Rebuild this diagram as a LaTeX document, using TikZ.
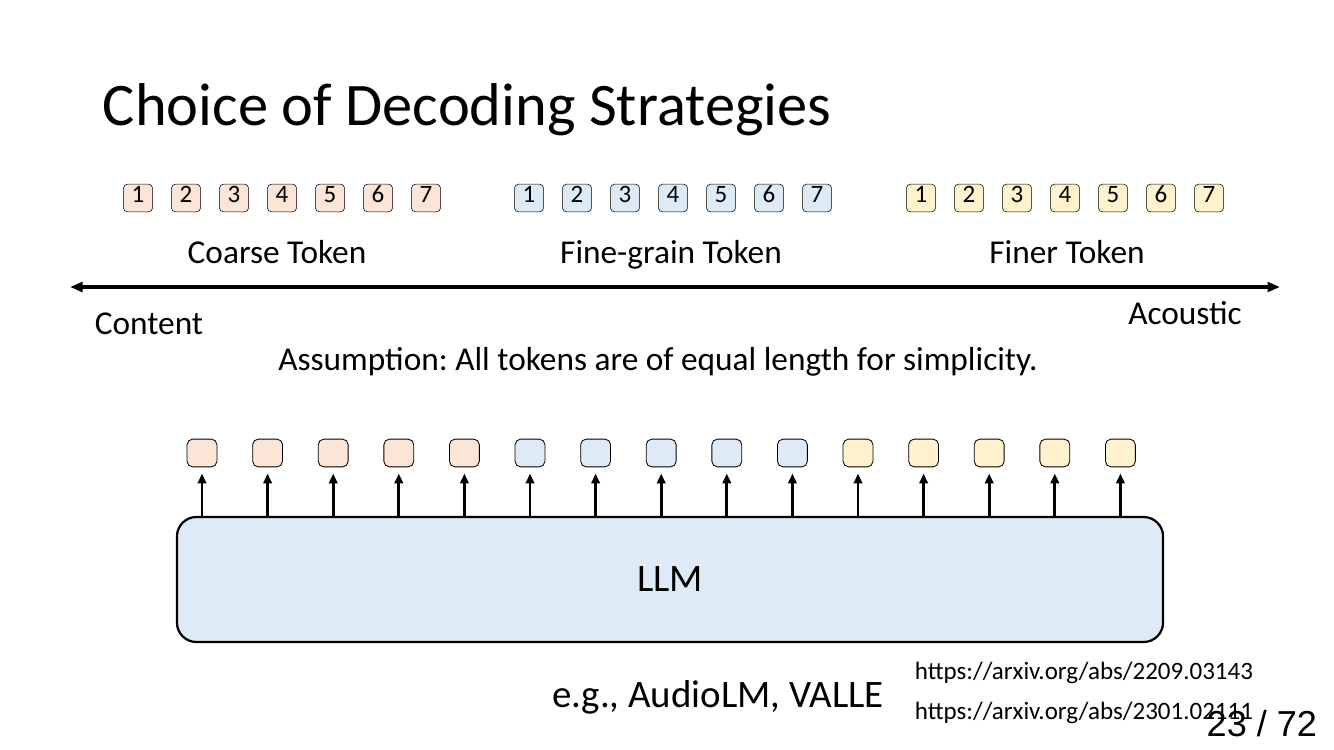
\documentclass[tikz,border=0pt]{standalone}
\usepackage{fontspec}
\setmainfont{Carlito}
\newfontfamily\numfont{Liberation Sans}
\usepackage{xcolor}
\usetikzlibrary{arrows.meta,positioning,calc}
\frenchspacing

\definecolor{coarsefill}{RGB}{251,229,214}
\definecolor{finefill}{RGB}{222,235,247}
\definecolor{finerfill}{RGB}{255,242,204}

\tikzset{
  smalltok/.style={draw,thin,rounded corners=3pt,minimum width=21pt,minimum height=20pt,
    inner sep=0pt,text height=0.64em,text depth=0pt,font=\fontsize{18}{18}\selectfont},
  outtok/.style={draw,semithick,rounded corners=4pt,minimum width=21.5pt,minimum height=20pt,inner sep=0pt},
  grouplabel/.style={font=\fontsize{24}{24}\selectfont,text height=0.75em,text depth=0.25em},
}

\begin{document}
\begin{tikzpicture}[x=0.72pt,y=-0.72pt]
  \useasboundingbox (0,0) rectangle (1334,750);
  \node[anchor=west,font=\fontsize{43.5}{43.5}\selectfont] (title) at (98,110) {Choice of Decoding Strategies};

  % token groups on top
  \foreach \i in {1,...,7}{
    \node[smalltok,fill=coarsefill] (c\i) at ({138+48*(\i-1)},198) {\i};
    \node[smalltok,fill=finefill]   (f\i) at ({529+48*(\i-1)},198) {\i};
    \node[smalltok,fill=finerfill]  (r\i) at ({921+48*(\i-1)},198) {\i};
  }
  \node[grouplabel] (coarse) at (277,260) {Coarse Token};
  \node[grouplabel] (fine)   at (671,260) {Fine-grain Token};
  \node[grouplabel] (finer)  at (1067,260) {Finer Token};

  % content -- acoustic axis
  \coordinate (axl) at (70,287);
  \coordinate (axr) at (1280,287);
  \draw[{Triangle[length=9pt,width=7pt]}-{Triangle[length=9pt,width=7pt]},line width=2.2pt] (axl) -- (axr);
  \node[grouplabel] (content)  at (149,331) {Content};
  \node[grouplabel] (acoustic) at (1185,321) {Acoustic};
  \node[grouplabel] (assume)   at (658,367) {Assumption: All tokens are of equal length for simplicity.};

  % LLM and its outputs
  \node[draw,line width=1.6pt,fill=finefill,rounded corners=14pt,minimum width=710pt,minimum height=90pt,
    font=\fontsize{28}{28}\selectfont] (llm) at (670,579.5) {LLM};
  \foreach \i in {1,...,15}{
    \ifnum\i<6 \def\tokcol{coarsefill}\else\ifnum\i<11 \def\tokcol{finefill}\else\def\tokcol{finerfill}\fi\fi
    \node[outtok,fill=\tokcol] (o\i) at ({202+65.6*(\i-1)},453) {};
    \draw[-{Triangle[length=7pt,width=6pt]},line width=2pt] (llm.north -| o\i) -- ([yshift=-4.5pt]o\i.south);
  }

  \node[font=\fontsize{28}{28}\selectfont] (eg) at (718,697) {e.g., AudioLM, VALLE};
  \node[anchor=west,font=\fontsize{18}{18}\selectfont] (url1) at (910,673) {https://arxiv.org/abs/2209.03143};
  \node[anchor=west,font=\fontsize{18}{18}\selectfont] (url2) at (910,713) {https://arxiv.org/abs/2301.02111};
  \node[anchor=east,font=\numfont\fontsize{26}{26}\selectfont] (page) at (1322,724) {23 / 72};
\end{tikzpicture}
\end{document}
